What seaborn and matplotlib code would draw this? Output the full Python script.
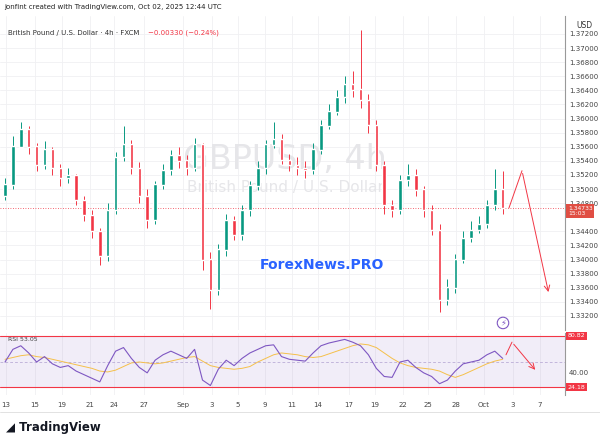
import matplotlib
matplotlib.use("Agg")
import matplotlib.pyplot as plt
import seaborn as sns
import numpy as np
import pandas as pd

closes = [1.3506,1.3560,1.3584,1.3560,1.3534,1.3556,1.3530,1.3515,1.3520,1.3484,
          1.3463,1.3440,1.3405,1.3470,1.3545,1.3563,1.3530,1.3490,1.3456,1.3506,
          1.3527,1.3548,1.3540,1.3530,1.3563,1.3400,1.3357,1.3414,1.3456,1.3435,
          1.3470,1.3505,1.3530,1.3563,1.3570,1.3541,1.3534,1.3530,1.3527,1.3556,
          1.3590,1.3610,1.3630,1.3648,1.3641,1.3626,1.3591,1.3534,1.3477,1.3470,
          1.3513,1.3520,1.3499,1.3470,1.3442,1.3343,1.3360,1.3400,1.3430,1.3442,
          1.3450,1.3477,1.3499,1.3473]
highs = [1.3515,1.3575,1.3595,1.3590,1.3565,1.3568,1.3560,1.3535,1.3530,1.3522,
         1.3490,1.3470,1.3445,1.3480,1.3552,1.3590,1.3570,1.3538,1.3500,1.3512,
         1.3535,1.3556,1.3560,1.3548,1.3572,1.3565,1.3410,1.3422,1.3465,1.3462,
         1.3478,1.3512,1.3540,1.3570,1.3595,1.3578,1.3550,1.3545,1.3540,1.3565,
         1.3598,1.3620,1.3640,1.3660,1.3668,1.3725,1.3635,1.3598,1.3540,1.3485,
         1.3520,1.3535,1.3528,1.3505,1.3478,1.3450,1.3372,1.3408,1.3440,1.3455,
         1.3462,1.3485,1.3528,1.3525]
lows = [1.3485,1.3500,1.3570,1.3550,1.3525,1.3528,1.3520,1.3505,1.3508,1.3478,
        1.3455,1.3430,1.3392,1.3398,1.3465,1.3540,1.3522,1.3480,1.3445,1.3450,
        1.3500,1.3520,1.3530,1.3520,1.3525,1.3385,1.3330,1.3350,1.3405,1.3428,
        1.3428,1.3462,1.3498,1.3522,1.3558,1.3535,1.3525,1.3520,1.3515,1.3522,
        1.3550,1.3585,1.3605,1.3622,1.3630,1.3615,1.3580,1.3525,1.3465,1.3460,
        1.3465,1.3505,1.3490,1.3460,1.3435,1.3325,1.3335,1.3352,1.3395,1.3425,
        1.3438,1.3445,1.3470,1.3465]
first_open = 1.3490
rsi = [52,66,70,62,52,58,50,46,48,42,38,34,30,48,64,68,56,46,40,54,
       60,64,60,56,66,32,26,44,54,48,56,62,66,70,71,58,55,54,53,62,
       70,73,75,77,74,70,60,45,36,35,52,54,46,40,36,28,32,42,50,52,
       54,60,64,56]
rsi_ma = [55,57,59,60,58,57,55,53,51,49,47,45,42,41,43,47,51,52,51,50,
          51,53,55,57,58,53,48,46,45,44,45,47,52,56,60,62,61,60,58,57,
          58,61,64,67,70,72,71,68,62,56,51,48,46,45,44,42,38,35,38,42,
          46,50,53,55]
tick_labels = ["13","15","19","21","24","27","Sep","3","5","9","11","14","17","19","22","25","28","Oct","3","7"]
tick_px = [6,35,62,90,114,144,183,212,238,265,292,318,349,375,403,428,456,484,513,540]

def px2x(p):
    return (p - 5) / 7.9

opens = [first_open] + closes[:-1]
df = pd.DataFrame({"i": np.arange(len(closes)), "o": opens, "c": closes, "h": highs, "l": lows,
                   "rsi": rsi, "ma": rsi_ma})

sns.set_style("white")
plt.rcParams["font.family"] = ["DejaVu Sans"]
fig = plt.figure(figsize=(6, 4.41), dpi=100)
W, H = 600, 441
axp = fig.add_axes([0, 1 - 330 / H, 565 / W, (330 - 16) / H])
axr = fig.add_axes([0, 1 - 395 / H, 565 / W, (395 - 333) / H], sharex=axp)

up, dn = "#089981", "#f23645"
cols = [up if c >= o else dn for o, c in zip(df.o, df.c)]
axp.vlines(df.i, df.l, df.h, colors=cols, lw=0.7, zorder=3)
axp.bar(df.i, np.abs(df.c - df.o) + 0.00005, bottom=np.minimum(df.o, df.c), width=0.45, color=cols, zorder=4)
ytop = 1.372 + 18 * 0.0001418
axp.set_ylim(1.3300, ytop)
xl = (px2x(0), px2x(565))
axp.set_xlim(*xl)
yt = [v for v in np.arange(1.332, 1.3721, 0.002) if abs(v - 1.346) > 1e-6]
axp.set_yticks(yt)
axp.yaxis.tick_right()
axp.set_yticklabels([f"{v:.5f}" for v in yt], fontsize=5, color="#444")
axp.tick_params(axis="y", length=0, pad=3)
axp.tick_params(axis="x", length=0, labelbottom=False)
xt = [px2x(p) for p in tick_px]
axp.set_xticks(xt)
axp.grid(True, color="#f0f0f3", lw=0.6)
for s in ["top", "left", "bottom"]:
    axp.spines[s].set_visible(False)
axp.spines["right"].set_color("#999")
axp.axhline(1.34733, color=dn, lw=0.6, ls=(0, (1, 2)), zorder=2)
axp.text(px2x(285), 1.3542, "GBPUSD, 4h", fontsize=24, color="#e6e6e9", ha="center", va="center", zorder=1)
axp.text(px2x(285), 1.3502, "British Pound / U.S. Dollar", fontsize=11, color="#e6e6e9", ha="center", va="center", zorder=1)
axp.text(px2x(322), 1.3392, "ForexNews.PRO", fontsize=10, color="#2962ff", fontweight="bold", ha="center", va="center", zorder=6)
axp.plot([px2x(509), px2x(522)], [1.34733, 1.3526], color=dn, lw=0.7)
axp.annotate("", xy=(px2x(549), 1.3350), xytext=(px2x(522), 1.3526),
             arrowprops=dict(arrowstyle="->", color=dn, lw=0.7))
axp.text(1.005, (1.34733 - 1.3300) / (ytop - 1.3300) - 0.01, "1.34733\n15:03", transform=axp.transAxes,
         fontsize=4.3, color="white", va="center", ha="left", zorder=10,
         bbox=dict(boxstyle="square,pad=0.25", fc="#e04e43", ec="none"))
axp.text(1.02, 0.985, "USD", transform=axp.transAxes, fontsize=5.5, color="#333", va="top")
axp.text(px2x(503), 1.3310, "⚡", fontsize=6, color="#7e57c2", ha="center", va="center",
         bbox=dict(boxstyle="circle,pad=0.15", fc="white", ec="#7e57c2", lw=0.8))
axp.text(px2x(8), 1.3722, "British Pound / U.S. Dollar · 4h · FXCM", fontsize=5, color="#333", va="center")
axp.text(px2x(148), 1.3722, "−0.00330 (−0.24%)", fontsize=5, color=dn, va="center")

axr.axhspan(24.18, 80.82, color="#7e57c2", alpha=0.1, lw=0)
axr.axhline(80.82, color=dn, lw=0.8)
axr.axhline(24.18, color=dn, lw=0.8)
axr.axhline(52.5, color="#b0a0d0", lw=0.5, ls=(0, (4, 3)))
sns.lineplot(data=df, x="i", y="ma", ax=axr, color="#f5c04a", lw=0.7)
sns.lineplot(data=df, x="i", y="rsi", ax=axr, color="#7e57c2", lw=0.8)
axr.plot([px2x(506), px2x(512)], [60, 74], color=dn, lw=0.7)
axr.annotate("", xy=(px2x(537), 41), xytext=(px2x(512), 74),
             arrowprops=dict(arrowstyle="->", color=dn, lw=0.7))
axr.set_ylim(15.5, 84.1)
axr.set_yticks([40])
axr.yaxis.tick_right()
axr.set_yticklabels(["40.00"], fontsize=5, color="#444")
axr.tick_params(axis="y", length=0, pad=3)
axr.set_xticks(xt)
axr.set_xticklabels(tick_labels, fontsize=5, color="#444")
axr.tick_params(axis="x", length=0, pad=5)
axr.set_xlabel(""); axr.set_ylabel("")
axr.grid(True, axis="x", color="#f0f0f3", lw=0.6)
for s in ["top", "left", "bottom"]:
    axr.spines[s].set_visible(False)
axr.spines["right"].set_color("#999")
for val, lab in [(80.82, "80.82"), (24.18, "24.18")]:
    axr.text(1.005, (val - 15.5) / (84.1 - 15.5), lab, transform=axr.transAxes, fontsize=4.5, color="white",
             va="center", ha="left", bbox=dict(boxstyle="square,pad=0.25", fc=dn, ec="none"))
axr.text(px2x(8), 77, "RSI 53.05", fontsize=4.5, color="#444", va="center")

fig.text(4 / W, 1 - 7 / H, "jonfint created with TradingView.com, Oct 02, 2025 12:44 UTC", fontsize=5, color="#222", va="center")
fig.add_artist(plt.Line2D([0, 1], [1 - 412 / H, 1 - 412 / H], color="#ddd", lw=0.6))
fig.text(6 / W, 1 - 427 / H, "◢ TradingView", fontsize=8.5, fontweight="bold", color="#131722", va="center")
fig.savefig("out.png", dpi=100)
